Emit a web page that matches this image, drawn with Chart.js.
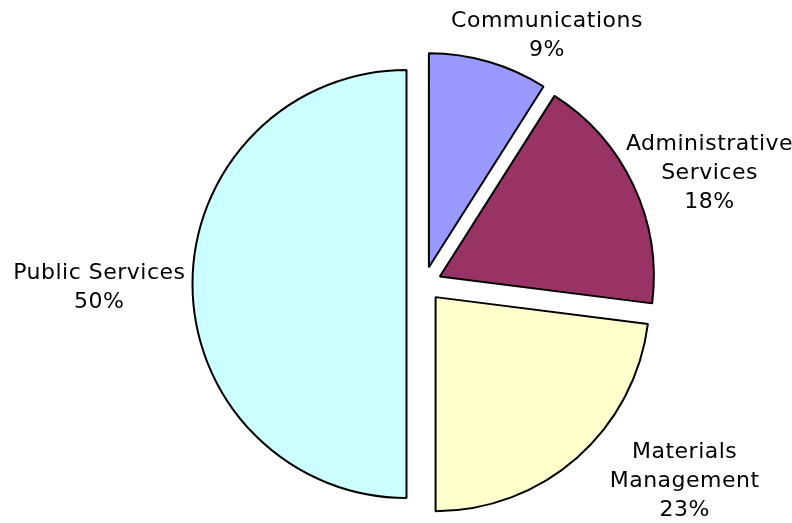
<!DOCTYPE html>
<html>
<head>
<meta charset="utf-8">
<script src="https://cdn.jsdelivr.net/npm/chart.js@4/dist/chart.umd.min.js"></script>
<style>
  body { margin: 0; background: #fff; }
  #wrap { width: 792px; height: 523px; }
</style>
</head>
<body>
<div id="wrap"><canvas id="myChart"></canvas></div>
<script>
var categories = [['Communications'], ['Administrative', 'Services'], ['Materials', 'Management'], ['Public Services']];
var values = [9, 18, 23, 50];
var colors = ['#9999FF', '#993366', '#FFFFCC', '#CCFFFF'];

// pulls every slice out along its middle angle (without growing the radius)
var explode = {
    id: 'explode',
    afterDatasetUpdate: function(chart, args, opts) {
        var arcs = args.meta.data;
        for (var i = 0; i < arcs.length; i++) {
            var a = arcs[i];
            var mid = (a.startAngle + a.endAngle) / 2;
            a.x = a.x + Math.cos(mid) * opts.distance;
            a.y = a.y + Math.sin(mid) * opts.distance;
        }
    }
};

// labels outside the slices: name lines plus percent
var outLabels = {
    id: 'outLabels',
    afterDatasetsDraw: function(chart, args, opts) {
        var ctx = chart.ctx;
        var arcs = chart.getDatasetMeta(0).data;
        var total = values.reduce(function(s, v) { return s + v; }, 0);
        ctx.save();
        ctx.font = opts.font;
        ctx.letterSpacing = opts.letterSpacing;
        ctx.fillStyle = '#000';
        ctx.textAlign = 'center';
        ctx.textBaseline = 'middle';
        for (var i = 0; i < arcs.length; i++) {
            var a = arcs[i];
            var mid = (a.startAngle + a.endAngle) / 2;
            var dx = Math.cos(mid), dy = Math.sin(mid);
            var lines = categories[i].concat([Math.round(values[i] / total * 100) + '%']);
            var w = 0;
            lines.forEach(function(t) { w = Math.max(w, ctx.measureText(t).width); });
            var h = lines.length * opts.lineHeight;
            var ax = a.x + dx * (a.outerRadius + opts.gap);
            var ay = a.y + dy * (a.outerRadius + opts.gap);
            var cx = ax + dx * w / 2 + opts.nudge[i][0];
            var cy = ay + dy * h / 2 + opts.nudge[i][1];
            for (var j = 0; j < lines.length; j++) {
                ctx.fillText(lines[j], cx, cy + (j - (lines.length - 1) / 2) * opts.lineHeight);
            }
        }
        ctx.restore();
    }
};

var ctx = document.getElementById('myChart').getContext('2d');
var chart = new Chart(ctx, {
    type: 'pie',
    data: {
        labels: categories.map(function(c) { return c.join(' '); }),
        datasets: [{
            data: values,
            backgroundColor: colors,
            borderColor: '#000',
            borderWidth: 2
        }]
    },
    options: {
        responsive: true,
        maintainAspectRatio: false,
        animation: false,
        radius: 214,
        layout: { padding: { top: 62, bottom: 17, left: 56, right: 0 } },
        plugins: {
            legend: { display: false },
            tooltip: { enabled: false },
            explode: { distance: 17.5 },
            outLabels: {
                font: '22px "DejaVu Sans"',
                letterSpacing: '0.5px',
                lineHeight: 29,
                gap: 6,
                nudge: [[30, 8], [-5, 9], [54, -13.5], [-1, 4]]
            }
        }
    },
    plugins: [explode, outLabels]
});
</script>
</body>
</html>
